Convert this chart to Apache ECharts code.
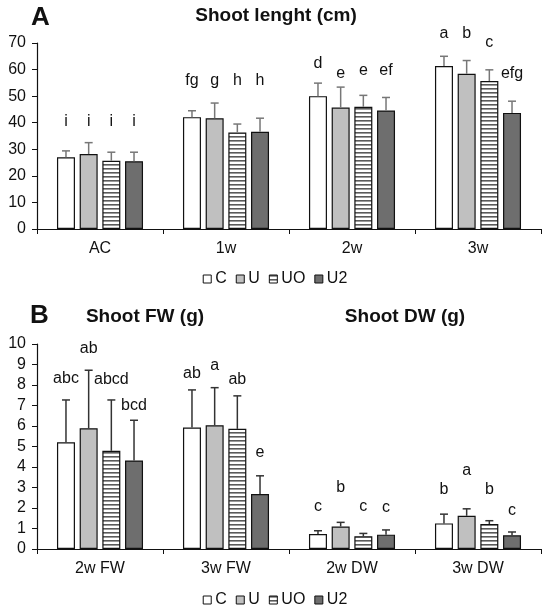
<!DOCTYPE html>
<html>
<head>
<meta charset="utf-8">
<script src="https://cdn.jsdelivr.net/npm/echarts@6/dist/echarts.min.js"></script>
<style>
  html, body { margin: 0; padding: 0; background: #fff; }
  #chart { width: 550px; height: 611px; }
</style>
</head>
<body>
<div id="chart"></div>
<script>
// panel A - shoot length (cm)
var catsA = ['AC', '1w', '2w', '3w'];
var lenC  = [27.0, 42.1, 50.0, 61.3];
var lenU  = [28.2, 41.7, 45.7, 58.4];
var lenUO = [25.7, 36.3, 46.0, 55.7];
var lenU2 = [25.5, 36.6, 44.6, 43.7];
var lenErrC  = [2.4, 2.4, 4.9, 3.7];
var lenErrU  = [4.3, 5.7, 7.7, 5.0];
var lenErrUO = [3.2, 3.2, 4.3, 4.2];
var lenErrU2 = [3.4, 5.1, 4.9, 4.4];
var lenLetters = [['i','i','i','i'], ['fg','g','h','h'], ['d','e','e','ef'], ['a','b','c','efg']];
var lenLetterY = [[40.4,40.4,40.4,40.4], [55.7,55.7,55.7,55.7], [62.1,58.6,59.6,59.6], [73.6,73.6,70.3,58.3]];

// panel B - shoot FW / DW (g)
var catsB = ['2w FW', '3w FW', '2w DW', '3w DW'];
var wC  = [5.21, 5.93, 0.73, 1.25];
var wU  = [5.89, 6.04, 1.10, 1.62];
var wUO = [4.79, 5.86, 0.62, 1.22];
var wU2 = [4.32, 2.68, 0.70, 0.67];
var wErrC  = [2.06, 1.83, 0.16, 0.45];
var wErrU  = [2.83, 1.83, 0.20, 0.34];
var wErrUO = [2.48, 1.61, 0.14, 0.16];
var wErrU2 = [1.96, 0.89, 0.23, 0.16];
var wLetters = [['abc','ab','abcd','bcd'], ['ab','a','ab','e'], ['c','b','c','c'], ['b','a','b','c']];
var wLetterY = [[8.33,9.8,8.25,7.0], [8.54,8.94,8.25,4.68], [2.07,3.0,2.07,2.0], [2.92,3.83,2.92,1.88]];

var names = ['C', 'U', 'UO', 'U2'];
var font = "'Liberation Sans', Arial, sans-serif";
var barW = 18;
var pitch = barW * 1.26;

// horizontal stripes for UO
var cv = document.createElement('canvas');
cv.width = 4; cv.height = 4;
var ctx = cv.getContext('2d');
ctx.fillStyle = '#fff';
ctx.fillRect(0, 0, 4, 4);
ctx.fillStyle = '#5a5a5a';
ctx.fillRect(0, 0, 4, 1.6);
var fills = ['#ffffff', '#c0c0c0', { image: cv, repeat: 'repeat' }, '#6e6e6e'];

var myChart = echarts.init(document.getElementById('chart'));

function barSeries(idx, vals) {
    return vals.map(function (v, s) {
        return {
            name: names[s],
            type: 'bar',
            xAxisIndex: idx,
            yAxisIndex: idx,
            barWidth: barW,
            barGap: '26%',
            itemStyle: { color: fills[s], borderColor: '#111', borderWidth: 1.2 },
            data: v
        };
    });
}

function errSeries(idx, vals, errs, color) {
    var data = [];
    for (var s = 0; s < vals.length; s++) {
        for (var c = 0; c < vals[s].length; c++) {
            data.push([c, vals[s][c], errs[s][c], s]);
        }
    }
    return {
        type: 'custom',
        xAxisIndex: idx,
        yAxisIndex: idx,
        z: 5,
        silent: true,
        data: data,
        renderItem: function (params, api) {
            var c = api.value(0), v = api.value(1), e = api.value(2), s = api.value(3);
            var p0 = api.coord([c, v]);
            var p1 = api.coord([c, v + e]);
            var x = p0[0] + (s - 1.5) * pitch;
            var st = { stroke: color, lineWidth: 1.5 };
            return {
                type: 'group',
                children: [
                    { type: 'line', shape: { x1: x, y1: p0[1], x2: x, y2: p1[1] }, style: st },
                    { type: 'line', shape: { x1: x - 4, y1: p1[1], x2: x + 4, y2: p1[1] }, style: st }
                ]
            };
        }
    };
}

function letterSeries(idx, letters, ys) {
    var data = [];
    var txt = [];
    for (var c = 0; c < letters.length; c++) {
        for (var s = 0; s < letters[c].length; s++) {
            data.push([c, ys[c][s], s]);
            txt.push(letters[c][s]);
        }
    }
    return {
        type: 'custom',
        xAxisIndex: idx,
        yAxisIndex: idx,
        z: 6,
        silent: true,
        clip: false,
        data: data,
        renderItem: function (params, api) {
            var p = api.coord([api.value(0), api.value(1)]);
            var x = p[0] + (api.value(2) - 1.5) * pitch;
            return {
                type: 'text',
                x: x,
                y: p[1],
                style: {
                    text: txt[params.dataIndex],
                    fill: '#111',
                    font: '16px ' + font,
                    align: 'center',
                    verticalAlign: 'middle'
                }
            };
        }
    };
}

function xAx(idx, cats) {
    return {
        type: 'category',
        gridIndex: idx,
        data: cats,
        boundaryGap: true,
        axisLine: { lineStyle: { color: '#111', width: 1.2 } },
        axisTick: { show: true, alignWithLabel: false, length: 5, lineStyle: { color: '#111' } },
        axisLabel: { color: '#111', fontSize: 16, fontFamily: font, margin: 12 },
        splitLine: { show: false }
    };
}

function yAx(idx, max, step) {
    return {
        type: 'value',
        gridIndex: idx,
        min: 0,
        max: max,
        interval: step,
        axisLine: { show: true, lineStyle: { color: '#111', width: 1.2 } },
        axisTick: { show: true, inside: false, length: 5, lineStyle: { color: '#111' } },
        axisLabel: { color: '#111', fontSize: 16, fontFamily: font, margin: 11 },
        splitLine: { show: false }
    };
}

function legendAt(top) {
    return {
        top: top,
        left: 'center',
        data: names,
        icon: 'rect',
        itemWidth: 8,
        itemHeight: 8,
        itemGap: 9,
        padding: 0,
        selectedMode: false,
        itemStyle: { borderColor: '#111', borderWidth: 1 },
        textStyle: { color: '#111', fontSize: 16, fontFamily: font, padding: [0, 0, 0, -1] }
    };
}

var titleStyle = { fontSize: 19, fontWeight: 'bold', color: '#111', fontFamily: font };
var letterStyle = { fontSize: 26, fontWeight: 'bold', color: '#111', fontFamily: font };

var option = {
    backgroundColor: '#fff',
    animation: false,
    title: [
        { text: 'A', left: 31, top: 5, padding: 0, textStyle: letterStyle },
        { text: 'Shoot lenght (cm)', left: 276, top: 6, padding: 0, textAlign: 'center', textStyle: titleStyle },
        { text: 'B', left: 30, top: 303, padding: 0, textStyle: letterStyle },
        { text: 'Shoot FW (g)', left: 145, top: 307, padding: 0, textAlign: 'center', textStyle: titleStyle },
        { text: 'Shoot DW (g)', left: 405, top: 307, padding: 0, textAlign: 'center', textStyle: titleStyle }
    ],
    legend: [legendAt(271), legendAt(592)],
    grid: [
        { left: 37, top: 43, width: 504, height: 186 },
        { left: 37, top: 344, width: 504, height: 205 }
    ],
    xAxis: [xAx(0, catsA), xAx(1, catsB)],
    yAxis: [yAx(0, 70, 10), yAx(1, 10, 1)],
    series: [].concat(
        barSeries(0, [lenC, lenU, lenUO, lenU2]),
        [errSeries(0, [lenC, lenU, lenUO, lenU2], [lenErrC, lenErrU, lenErrUO, lenErrU2], '#777'),
         letterSeries(0, lenLetters, lenLetterY)],
        barSeries(1, [wC, wU, wUO, wU2]),
        [errSeries(1, [wC, wU, wUO, wU2], [wErrC, wErrU, wErrUO, wErrU2], '#333'),
         letterSeries(1, wLetters, wLetterY)]
    )
};

myChart.setOption(option);
window.onresize = myChart.resize;
</script>
</body>
</html>
